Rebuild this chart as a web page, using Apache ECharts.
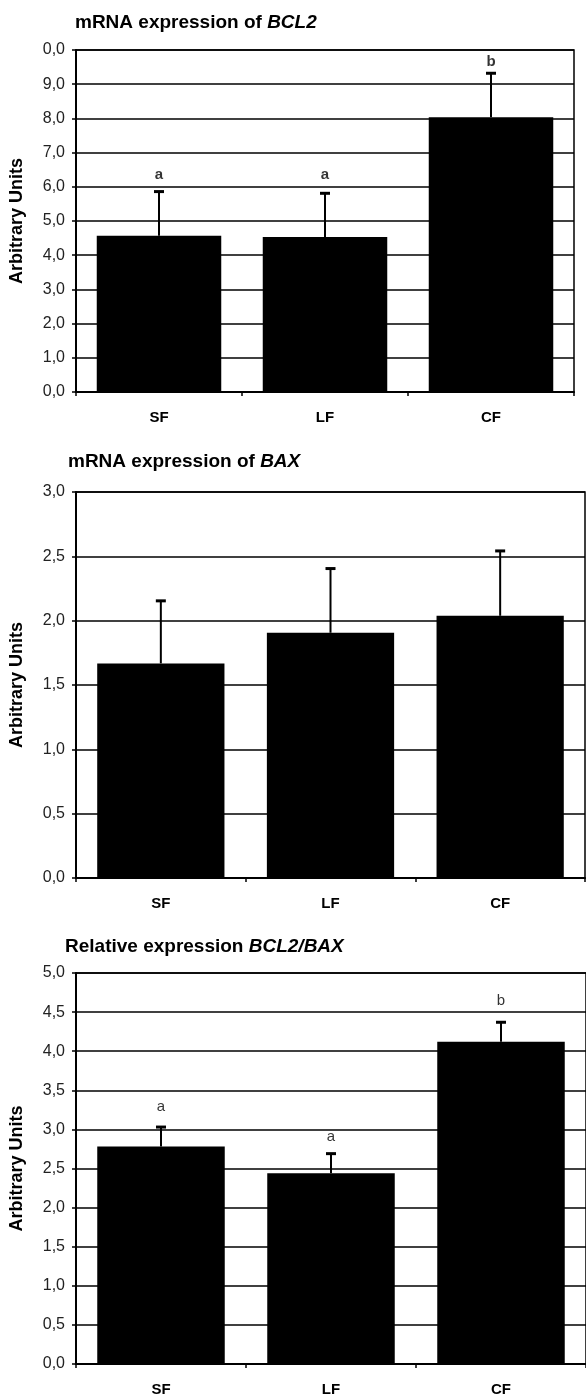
<!DOCTYPE html>
<html>
<head>
<meta charset="utf-8">
<script src="https://cdn.jsdelivr.net/npm/echarts@6/dist/echarts.min.js"></script>
<style>
  html, body { margin: 0; padding: 0; background: #fff; }
  #chart { width: 586px; height: 1397px; }
</style>
</head>
<body>
<div id="chart"></div>
<script>
// categories shared by all three panels
var groups = ['SF', 'LF', 'CF'];

// panel 1 - BCL2
var bcl2Mean = [4.57, 4.53, 8.03];
var bcl2Err = [5.86, 5.81, 9.32];
var bcl2Letters = ['a', 'a', 'b'];
var bcl2LetterPos = [6.35, 6.35, 9.66];
var bcl2Ticks = ['0,0', '1,0', '2,0', '3,0', '4,0', '5,0', '6,0', '7,0', '8,0', '9,0', '0,0'];

// panel 2 - BAX
var baxMean = [1.668, 1.906, 2.038];
var baxErr = [2.154, 2.405, 2.542];
var baxTicks = ['0,0', '0,5', '1,0', '1,5', '2,0', '2,5', '3,0'];

// panel 3 - BCL2/BAX
var ratioMean = [2.78, 2.44, 4.12];
var ratioErr = [3.03, 2.69, 4.37];
var ratioLetters = ['a', 'a', 'b'];
var ratioLetterPos = [3.29, 2.905, 4.65];
var ratioTicks = ['0,0', '0,5', '1,0', '1,5', '2,0', '2,5', '3,0', '3,5', '4,0', '4,5', '5,0'];

var FONT = "'Liberation Sans', Arial, sans-serif";

var chart = echarts.init(document.getElementById('chart'));

function makeTitle(left, top, plain, italic) {
  return {
    left: left,
    top: top,
    padding: 0,
    text: '{n|' + plain + '}{i|' + italic + '}',
    textStyle: {
      rich: {
        n: { fontFamily: FONT, fontSize: 19, fontWeight: 'bold', color: '#000' },
        i: { fontFamily: FONT, fontSize: 19, fontWeight: 'bold', fontStyle: 'italic', color: '#000' }
      }
    }
  };
}

function makeX(idx) {
  return {
    type: 'category',
    gridIndex: idx,
    data: groups,
    axisLine: { lineStyle: { color: '#000', width: 2 } },
    axisTick: { show: true, length: 4, lineStyle: { color: '#000', width: 1.5 } },
    axisLabel: { margin: 18, fontFamily: FONT, fontSize: 15, fontWeight: 'bold', color: '#000' },
    splitLine: { show: false }
  };
}

function makeY(idx, max, interval, ticks) {
  return {
    type: 'value',
    gridIndex: idx,
    min: 0,
    max: max,
    interval: interval,
    name: 'Arbitrary Units',
    nameLocation: 'middle',
    nameGap: 50,
    nameTextStyle: { fontFamily: FONT, fontSize: 18, fontWeight: 'bold', color: '#000' },
    axisLine: { show: true, lineStyle: { color: '#000', width: 2 } },
    axisTick: { show: true, length: 4, lineStyle: { color: '#000', width: 1.5 } },
    axisLabel: {
      margin: 11, fontFamily: FONT, fontSize: 16, color: '#222',
      formatter: function (v, i) { return ticks[i]; }
    },
    splitLine: { show: true, lineStyle: { color: '#000', width: 1.5 } }
  };
}

function barSeries(idx, values) {
  return {
    type: 'bar',
    xAxisIndex: idx,
    yAxisIndex: idx,
    data: values,
    barWidth: '75%',
    itemStyle: { color: '#000' },
    z: 2
  };
}

// error bars: vertical line from the bar top up to the upper value, with a cap
function errSeries(idx, means, tops) {
  var data = means.map(function (m, i) { return [i, m, tops[i]]; });
  return {
    type: 'custom',
    xAxisIndex: idx,
    yAxisIndex: idx,
    data: data,
    z: 5,
    renderItem: function (params, api) {
      var low = api.coord([api.value(0), api.value(1)]);
      var high = api.coord([api.value(0), api.value(2)]);
      var style = { stroke: '#000', lineWidth: 2 };
      return {
        type: 'group',
        children: [
          { type: 'line', shape: { x1: low[0], y1: low[1], x2: high[0], y2: high[1] }, style: style },
          { type: 'line', shape: { x1: high[0] - 5, y1: high[1], x2: high[0] + 5, y2: high[1] },
            style: { stroke: '#000', lineWidth: 3 } }
        ]
      };
    }
  };
}

function letterSeries(idx, letters, pos, bold) {
  return {
    type: 'scatter',
    xAxisIndex: idx,
    yAxisIndex: idx,
    data: pos.map(function (p, i) { return [i, p]; }),
    symbolSize: 1,
    itemStyle: { color: 'rgba(0,0,0,0)' },
    label: {
      show: true,
      position: 'inside',
      fontFamily: FONT,
      fontSize: 15,
      fontWeight: bold ? 'bold' : 'normal',
      color: '#000',
      formatter: function (p) { return letters[p.dataIndex]; }
    },
    z: 6
  };
}

var gridStyle = { show: true, borderColor: '#000', borderWidth: 1.5, backgroundColor: '#fff' };

var option = {
  backgroundColor: '#fff',
  animation: false,
  title: [
    makeTitle(75, 13, 'mRNA expression of ', 'BCL2'),
    makeTitle(68, 452, 'mRNA expression of ', 'BAX'),
    makeTitle(65, 937, 'Relative expression ', 'BCL2/BAX')
  ],
  grid: [
    Object.assign({ left: 71, right: 12, top: 50, height: 342 }, gridStyle),
    Object.assign({ left: 70, right: 1, top: 492, height: 386 }, gridStyle),
    Object.assign({ left: 70, right: 0, top: 973, height: 391 }, gridStyle)
  ],
  xAxis: [makeX(0), makeX(1), makeX(2)],
  yAxis: [
    makeY(0, 10, 1, bcl2Ticks),
    makeY(1, 3, 0.5, baxTicks),
    makeY(2, 5, 0.5, ratioTicks)
  ],
  series: [
    barSeries(0, bcl2Mean),
    errSeries(0, bcl2Mean, bcl2Err),
    letterSeries(0, bcl2Letters, bcl2LetterPos, true),
    barSeries(1, baxMean),
    errSeries(1, baxMean, baxErr),
    barSeries(2, ratioMean),
    errSeries(2, ratioMean, ratioErr),
    letterSeries(2, ratioLetters, ratioLetterPos, false)
  ]
};

chart.setOption(option);
</script>
</body>
</html>
